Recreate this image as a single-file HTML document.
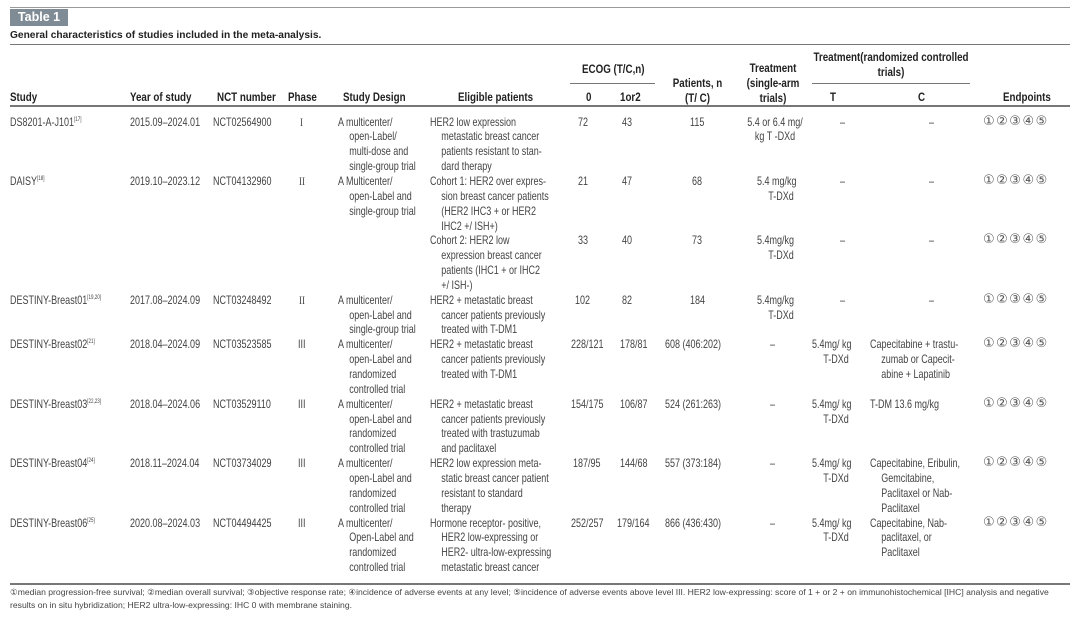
<!DOCTYPE html>
<html><head><meta charset="utf-8"><style>
body{margin:0;background:#fff;}
#p{position:relative;width:1080px;height:618px;overflow:hidden;font-family:"Liberation Sans",sans-serif;color:#444;font-size:12px;}
.a{position:absolute;line-height:14.85px;white-space:nowrap;transform:scaleX(.75);transform-origin:0 0;}
.h{font-weight:bold;color:#222;font-size:11.8px;transform:scaleX(.83);}
.c{text-align:center;transform-origin:50% 0;}
.i{padding-left:15px;text-indent:-15px;}
.e{transform:none;font-size:13px;letter-spacing:1.5px;font-family:"DejaVu Sans",sans-serif;color:#555;}
.ln{position:absolute;left:10px;width:1060px;height:1px;background:#777;}
sup{font-size:6px;vertical-align:5px;line-height:0;}
.r{font-family:"Liberation Serif",serif;}
</style></head><body><div id="p">
<div class="ln" style="top:7px;background:#999"></div>
<div style="position:absolute;left:10px;top:9px;width:58px;height:17px;background:#7f8c96;color:#fff;font-family:'Liberation Sans',sans-serif;font-weight:bold;font-size:12.5px;line-height:17px;text-align:center">Table 1</div>
<div class="a h" style="left:10px;top:28px;font-size:10.5px;transform:scaleX(.97)">General characteristics of studies included in the meta-analysis.</div>
<div class="ln" style="top:44px"></div>
<div class="ln" style="top:105px;height:1.5px"></div>
<div style="position:absolute;left:570px;top:83px;width:85px;height:1px;background:#777"></div>
<div style="position:absolute;left:812px;top:83px;width:158px;height:1px;background:#777"></div>
<div class="ln" style="top:583px;height:1.5px"></div>

<!-- header -->
<div class="a h" style="left:10px;top:90px">Study</div>
<div class="a h" style="left:130px;top:90px">Year of study</div>
<div class="a h" style="left:217px;top:90px">NCT number</div>
<div class="a h" style="left:288px;top:90px">Phase</div>
<div class="a h" style="left:343px;top:90px">Study Design</div>
<div class="a h" style="left:458px;top:90px">Eligible patients</div>
<div class="a h" style="left:582px;top:62px">ECOG (T/C,n)</div>
<div class="a h" style="left:586px;top:90px">0</div>
<div class="a h" style="left:620px;top:90px">1or2</div>
<div class="a h c" style="left:660px;top:76px;width:75px">Patients, n<br>(T/ C)</div>
<div class="a h c" style="left:733px;top:61px;width:80px">Treatment<br>(single-arm<br>trials)</div>
<div class="a h c" style="left:796px;top:50px;width:190px">Treatment(randomized controlled<br>trials)</div>
<div class="a h" style="left:830px;top:90px">T</div>
<div class="a h" style="left:918px;top:90px">C</div>
<div class="a h" style="left:1003px;top:90px">Endpoints</div>

<!-- DS8201 -->
<div class="a" style="left:10px;top:114.6px">DS8201-A-J101<sup>[17]</sup></div>
<div class="a" style="left:130px;top:114.6px">2015.09–2024.01</div>
<div class="a" style="left:213px;top:114.6px">NCT02564900</div>
<div class="a r" style="left:300px;top:114.6px">I</div>
<div class="a i" style="left:338px;top:114.6px">A multicenter/<br>open-Label/<br>multi-dose and<br>single-group trial</div>
<div class="a i" style="left:430px;top:114.6px">HER2 low expression<br>metastatic breast cancer<br>patients resistant to stan-<br>dard therapy</div>
<div class="a" style="left:578px;top:114.6px">72</div>
<div class="a" style="left:622px;top:114.6px">43</div>
<div class="a" style="left:690px;top:114.6px">115</div>
<div class="a c" style="left:735px;top:114.6px;width:80px">5.4 or 6.4 mg/<br>kg T -DXd</div>
<div class="a" style="left:840px;top:114.6px">–</div>
<div class="a" style="left:929px;top:114.6px">–</div>
<div class="a e" style="left:983px;top:114.6px">①②③④⑤</div>

<!-- DAISY -->
<div class="a" style="left:10px;top:174px">DAISY<sup>[18]</sup></div>
<div class="a" style="left:130px;top:174px">2019.10–2023.12</div>
<div class="a" style="left:213px;top:174px">NCT04132960</div>
<div class="a r" style="left:299px;top:174px">II</div>
<div class="a i" style="left:338px;top:174px">A Multicenter/<br>open-Label and<br>single-group trial</div>
<div class="a i" style="left:430px;top:174px">Cohort 1: HER2 over expres-<br>sion breast cancer patients<br>(HER2 IHC3 + or HER2<br>IHC2 +/ ISH+)</div>
<div class="a" style="left:578px;top:174px">21</div>
<div class="a" style="left:622px;top:174px">47</div>
<div class="a" style="left:692px;top:174px">68</div>
<div class="a i" style="left:757px;top:174px">5.4 mg/kg<br>T-DXd</div>
<div class="a" style="left:840px;top:174px">–</div>
<div class="a" style="left:929px;top:174px">–</div>
<div class="a e" style="left:983px;top:174px">①②③④⑤</div>

<div class="a i" style="left:430px;top:233.4px">Cohort 2: HER2 low<br>expression breast cancer<br>patients (IHC1 + or IHC2<br>+/ ISH-)</div>
<div class="a" style="left:578px;top:233.4px">33</div>
<div class="a" style="left:622px;top:233.4px">40</div>
<div class="a" style="left:692px;top:233.4px">73</div>
<div class="a i" style="left:757px;top:233.4px">5.4mg/kg<br>T-DXd</div>
<div class="a" style="left:840px;top:233.4px">–</div>
<div class="a" style="left:929px;top:233.4px">–</div>
<div class="a e" style="left:983px;top:233.4px">①②③④⑤</div>

<!-- 01 -->
<div class="a" style="left:10px;top:292.8px">DESTINY-Breast01<sup>[19,20]</sup></div>
<div class="a" style="left:130px;top:292.8px">2017.08–2024.09</div>
<div class="a" style="left:213px;top:292.8px">NCT03248492</div>
<div class="a r" style="left:299px;top:292.8px">II</div>
<div class="a i" style="left:338px;top:292.8px">A multicenter/<br>open-Label and<br>single-group trial</div>
<div class="a i" style="left:430px;top:292.8px">HER2 + metastatic breast<br>cancer patients previously<br>treated with T-DM1</div>
<div class="a" style="left:575px;top:292.8px">102</div>
<div class="a" style="left:622px;top:292.8px">82</div>
<div class="a" style="left:690px;top:292.8px">184</div>
<div class="a i" style="left:757px;top:292.8px">5.4mg/kg<br>T-DXd</div>
<div class="a" style="left:840px;top:292.8px">–</div>
<div class="a" style="left:929px;top:292.8px">–</div>
<div class="a e" style="left:983px;top:292.8px">①②③④⑤</div>

<!-- 02 -->
<div class="a" style="left:10px;top:337.4px">DESTINY-Breast02<sup>[21]</sup></div>
<div class="a" style="left:130px;top:337.4px">2018.04–2024.09</div>
<div class="a" style="left:213px;top:337.4px">NCT03523585</div>
<div class="a" style="left:298px;top:337.4px">III</div>
<div class="a i" style="left:338px;top:337.4px">A multicenter/<br>open-Label and<br>randomized<br>controlled trial</div>
<div class="a i" style="left:430px;top:337.4px">HER2 + metastatic breast<br>cancer patients previously<br>treated with T-DM1</div>
<div class="a" style="left:571px;top:337.4px">228/121</div>
<div class="a" style="left:620px;top:337.4px">178/81</div>
<div class="a" style="left:665px;top:337.4px">608 (406:202)</div>
<div class="a" style="left:770px;top:337.4px">–</div>
<div class="a i" style="left:812px;top:337.4px">5.4mg/ kg<br>T-DXd</div>
<div class="a i" style="left:870px;top:337.4px">Capecitabine + trastu-<br>zumab or Capecit-<br>abine + Lapatinib</div>
<div class="a e" style="left:983px;top:337.4px">①②③④⑤</div>

<!-- 03 -->
<div class="a" style="left:10px;top:396.8px">DESTINY-Breast03<sup>[22,23]</sup></div>
<div class="a" style="left:130px;top:396.8px">2018.04–2024.06</div>
<div class="a" style="left:213px;top:396.8px">NCT03529110</div>
<div class="a" style="left:298px;top:396.8px">III</div>
<div class="a i" style="left:338px;top:396.8px">A multicenter/<br>open-Label and<br>randomized<br>controlled trial</div>
<div class="a i" style="left:430px;top:396.8px">HER2 + metastatic breast<br>cancer patients previously<br>treated with trastuzumab<br>and paclitaxel</div>
<div class="a" style="left:571px;top:396.8px">154/175</div>
<div class="a" style="left:620px;top:396.8px">106/87</div>
<div class="a" style="left:665px;top:396.8px">524 (261:263)</div>
<div class="a" style="left:770px;top:396.8px">–</div>
<div class="a i" style="left:812px;top:396.8px">5.4mg/ kg<br>T-DXd</div>
<div class="a" style="left:870px;top:396.8px">T-DM 13.6 mg/kg</div>
<div class="a e" style="left:983px;top:396.8px">①②③④⑤</div>

<!-- 04 -->
<div class="a" style="left:10px;top:456.2px">DESTINY-Breast04<sup>[24]</sup></div>
<div class="a" style="left:130px;top:456.2px">2018.11–2024.04</div>
<div class="a" style="left:213px;top:456.2px">NCT03734029</div>
<div class="a" style="left:298px;top:456.2px">III</div>
<div class="a i" style="left:338px;top:456.2px">A multicenter/<br>open-Label and<br>randomized<br>controlled trial</div>
<div class="a i" style="left:430px;top:456.2px">HER2 low expression meta-<br>static breast cancer patient<br>resistant to standard<br>therapy</div>
<div class="a" style="left:573px;top:456.2px">187/95</div>
<div class="a" style="left:620px;top:456.2px">144/68</div>
<div class="a" style="left:665px;top:456.2px">557 (373:184)</div>
<div class="a" style="left:770px;top:456.2px">–</div>
<div class="a i" style="left:812px;top:456.2px">5.4mg/ kg<br>T-DXd</div>
<div class="a i" style="left:870px;top:456.2px">Capecitabine, Eribulin,<br>Gemcitabine,<br>Paclitaxel or Nab-<br>Paclitaxel</div>
<div class="a e" style="left:983px;top:456.2px">①②③④⑤</div>

<!-- 06 -->
<div class="a" style="left:10px;top:515.6px">DESTINY-Breast06<sup>[25]</sup></div>
<div class="a" style="left:130px;top:515.6px">2020.08–2024.03</div>
<div class="a" style="left:213px;top:515.6px">NCT04494425</div>
<div class="a" style="left:298px;top:515.6px">III</div>
<div class="a i" style="left:338px;top:515.6px">A multicenter/<br>Open-Label and<br>randomized<br>controlled trial</div>
<div class="a i" style="left:430px;top:515.6px">Hormone receptor- positive,<br>HER2 low-expressing or<br>HER2- ultra-low-expressing<br>metastatic breast cancer</div>
<div class="a" style="left:571px;top:515.6px">252/257</div>
<div class="a" style="left:617px;top:515.6px">179/164</div>
<div class="a" style="left:665px;top:515.6px">866 (436:430)</div>
<div class="a" style="left:770px;top:515.6px">–</div>
<div class="a i" style="left:812px;top:515.6px">5.4mg/ kg<br>T-DXd</div>
<div class="a i" style="left:870px;top:515.6px">Capecitabine, Nab-<br>paclitaxel, or<br>Paclitaxel</div>
<div class="a e" style="left:983px;top:515.6px">①②③④⑤</div>

<div style="position:absolute;left:10px;top:586px;font-size:8.6px;line-height:13px;width:1065px;color:#444">①median progression-free survival; ②median overall survival; ③objective response rate; ④incidence of adverse events at any level; ⑤incidence of adverse events above level III. HER2 low-expressing: score of 1 + or 2 + on immunohistochemical [IHC] analysis and negative results on in situ hybridization; HER2 ultra-low-expressing: IHC 0 with membrane staining.</div>
</div></body></html>
